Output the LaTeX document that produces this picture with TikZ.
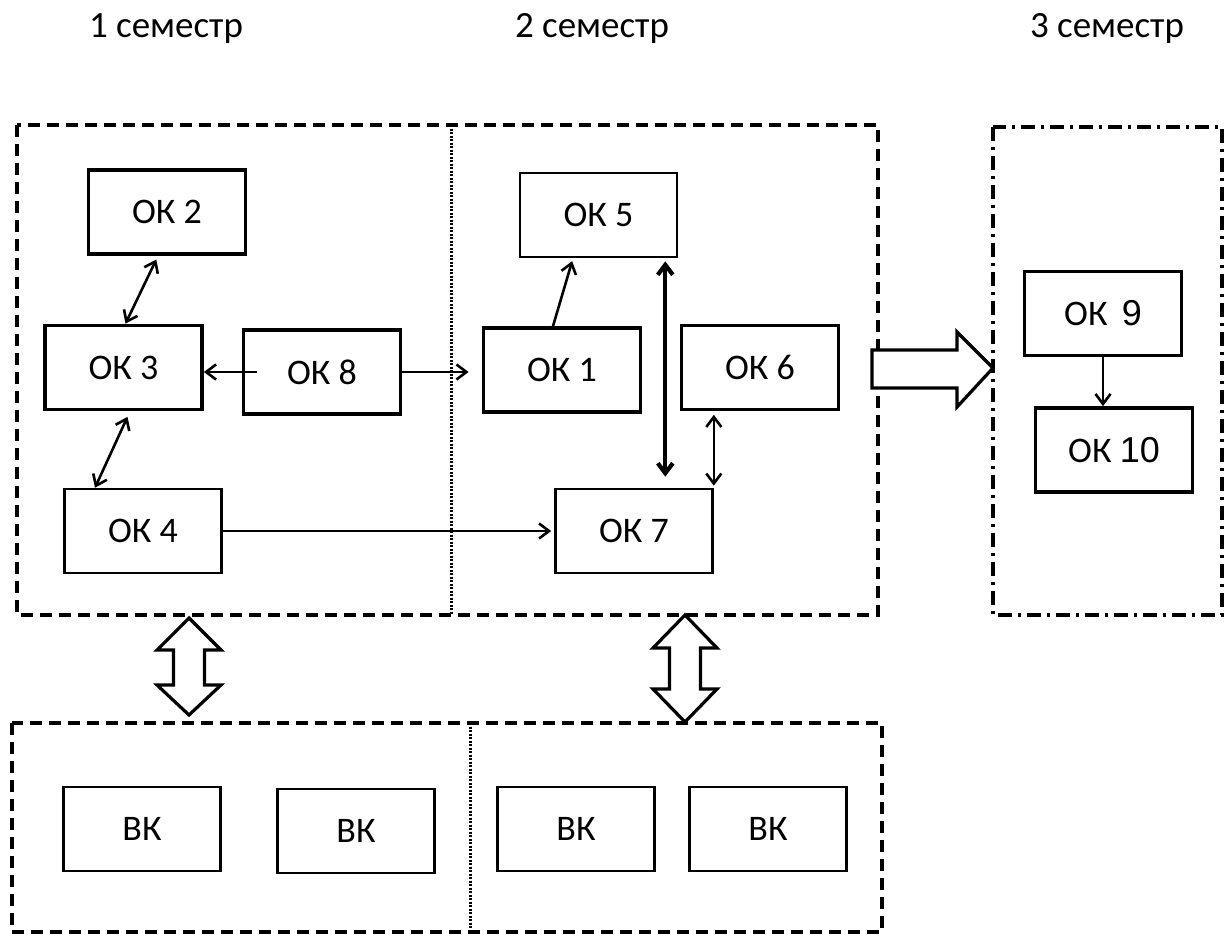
\documentclass[tikz,border=0pt]{standalone}
\usepackage{fontspec}
\setmainfont{Carlito}
\newfontfamily\arialfont{Liberation Sans}
\usetikzlibrary{arrows.meta, positioning}

\tikzset{
  okbox/.style={draw, fill=white, line width=2.6pt, minimum width=157pt, minimum height=84pt,
                inner sep=0pt, font=\fontsize{36}{40}\selectfont},
  okboxb/.style={okbox, line width=3.8pt},
  vkbox/.style={okbox, line width=2.2pt},
  semtitle/.style={anchor=base, font=\fontsize{37}{40}\selectfont},
  semframe/.style={line width=3.6pt, dash pattern=on 12pt off 7pt},
  lastframe/.style={line width=3.4pt, dash pattern=on 14pt off 6pt on 3pt off 6pt},
  divider/.style={line width=3pt, dash pattern=on 2pt off 1.5pt},
  link/.style={line width=2.6pt, -{Straight Barb[length=10pt,width=15pt]}},
  bilink/.style={line width=2.6pt, {Straight Barb[length=10pt,width=15pt]}-{Straight Barb[length=10pt,width=15pt]}},
  blockarrow/.style={draw, line width=3.2pt, fill=white, line join=miter},
}

\begin{document}
\begin{tikzpicture}[x=1pt, y=-1pt]
  \useasboundingbox (0,0) rectangle (1225,937);

  % semester titles
  \node[semtitle] (sem1) at (166,37) {1 семестр};
  \node[semtitle] (sem2) at (592,37) {2 семестр};
  \node[semtitle] (sem3) at (1107,37) {3 семестр};

  % frames
  \draw[semframe] (17,125) rectangle (878,615);
  \draw[divider] (451,125) -- (451,615);
  \draw[lastframe] (993,127) rectangle (1222,615);
  \draw[semframe] (12,723) rectangle (882,932);
  \draw[divider] (470,723) -- (470,932);

  % block arrows
  \draw[blockarrow] (872,350) -- (957,350) -- (957,332) -- (993,368) -- (957,407)
    -- (957,388) -- (872,388) -- cycle;
  \draw[blockarrow] (189,618) -- (221,650) -- (204.5,650) -- (204.5,685) -- (221,685)
    -- (189,715) -- (157,685) -- (173.5,685) -- (173.5,650) -- (157,650) -- cycle;
  \draw[blockarrow] (685,615) -- (717,648) -- (700.5,648) -- (700.5,689) -- (717,689)
    -- (685,722) -- (653,689) -- (669.5,689) -- (669.5,648) -- (653,648) -- cycle;

  % first and second semester
  \node[okboxb] (ok2) at (167,212) {ОК 2};
  \node[okboxb] (ok3) at (123.5,367.5) {ОК 3};
  \node[okboxb] (ok8) at (322,372) {ОК 8};
  \node[okbox]  (ok4) at (143,531) {ОК 4};
  \node[okbox]  (ok5) at (598.5,215) {ОК 5};
  \node[okboxb] (ok1) at (562,370) {ОК 1};
  \node[okbox]  (ok6) at (760,367.5) {ОК 6};
  \node[okbox]  (ok7) at (634,531) {ОК 7};

  % third semester
  \node[okboxb] (ok9) at (1103,313.5) {ОК\, {\arialfont 9}};
  \node[okboxb] (ok10) at (1114,450) {ОК {\arialfont 10}};

  % elective blocks
  \node[vkbox] (vk1) at (142,829) {ВК};
  \node[vkbox] (vk2) at (356,831) {ВК};
  \node[vkbox] (vk3) at (576,829) {ВК};
  \node[vkbox] (vk4) at (768,829) {ВК};

  \draw[bilink, shorten <=4pt] ([xshift=-9pt]ok2.south) -- ([xshift=2pt]ok3.north);
  \draw[bilink, shorten <=6pt] ([xshift=6.5pt]ok3.south) -- ([xshift=-48pt]ok4.north);
  \draw[link] ([xshift=15pt]ok8.west) -- (ok8.west -| ok3.east);
  \draw[link, shorten >=13pt] (ok8.east) -- (ok8.east -| ok1.west);
  \draw[link, shorten >=3pt] (ok4.east) -- (ok4.east -| ok7.west);
  \draw[link, shorten >=3pt] ([xshift=-9pt]ok1.north) -- ([xshift=-25.5pt]ok5.south);
  \draw[bilink, line width=4.2pt, shorten <=3pt, shorten >=11pt]
    ([xshift=-13pt]ok5.south east) -- ([xshift=-13pt]ok5.south east |- ok7.north);
  \draw[bilink, shorten <=4pt, shorten >=2pt] (ok7.north east |- ok6.south) -- (ok7.north east);
  \draw[link] (ok9.south) -- (ok9.south |- ok10.north);
\end{tikzpicture}
\end{document}
